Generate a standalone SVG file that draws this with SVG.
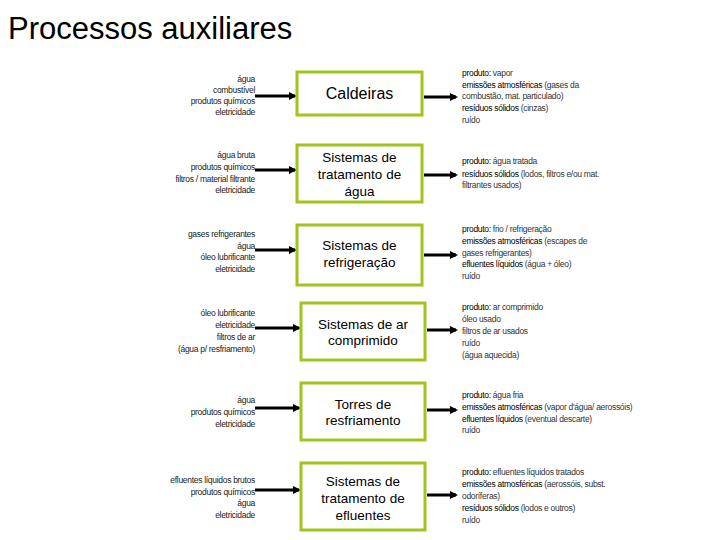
<svg xmlns="http://www.w3.org/2000/svg" width="720" height="540" viewBox="0 0 720 540">
<style>
.title{font-family:"Liberation Sans",Arial,sans-serif;font-size:31px;fill:#000}
.box{fill:#fff;stroke:#a2c41e;stroke-width:3}
.bt{font-family:"Liberation Sans",Arial,sans-serif;font-size:13.5px;fill:#000;text-anchor:middle}
.in{font-family:"Liberation Sans",Arial,sans-serif;font-size:8.5px;fill:#222;text-anchor:end;letter-spacing:-0.3px}
.out{font-family:"Liberation Sans",Arial,sans-serif;font-size:8.5px;fill:#333;letter-spacing:-0.3px}
.b{fill:#000}
.arr{stroke:#000;stroke-width:3;fill:none;marker-end:url(#ah)}
</style>
<defs>
<marker id="ah" markerWidth="8" markerHeight="8" refX="6" refY="4" orient="auto" markerUnits="userSpaceOnUse">
<path d="M0,0 L8,4 L0,8 Z" fill="#000"/>
</marker>
</defs>
<rect width="720" height="540" fill="#fff"/>
<text class="title" x="8" y="39">Processos auxiliares</text>

<g id="connectors">
<line class="arr" x1="255" y1="96" x2="295" y2="96"/>
<line class="arr" x1="424" y1="97" x2="456" y2="97"/>
<line class="arr" x1="255" y1="170" x2="295" y2="170"/>
<line class="arr" x1="424" y1="175" x2="456" y2="175"/>
<line class="arr" x1="255" y1="250" x2="295" y2="250"/>
<line class="arr" x1="424" y1="255" x2="456" y2="255"/>
<line class="arr" x1="255" y1="328" x2="299" y2="328"/>
<line class="arr" x1="427" y1="330" x2="456" y2="330"/>
<line class="arr" x1="255" y1="408" x2="299" y2="408"/>
<line class="arr" x1="427" y1="410" x2="456" y2="410"/>
<line class="arr" x1="255" y1="490" x2="299" y2="490"/>
<line class="arr" x1="427" y1="495" x2="456" y2="495"/>
</g>

<g id="caldeiras">
<rect class="box" x="297" y="72" width="125" height="43"/>
<text class="bt" x="359.5" y="99" style="font-size:16px">Caldeiras</text>
<text class="in" x="255" y="82">água</text>
<text class="in" x="255" y="93">combustível</text>
<text class="in" x="255" y="104">produtos químicos</text>
<text class="in" x="255" y="115">eletricidade</text>
<text class="out" x="462" y="76"><tspan class="b">produto:</tspan> vapor</text>
<text class="out" x="462" y="88"><tspan class="b">emissões atmosféricas</tspan> (gases da</text>
<text class="out" x="462" y="99">combustão, mat. particulado)</text>
<text class="out" x="462" y="111"><tspan class="b">resíduos sólidos</tspan> (cinzas)</text>
<text class="out" x="462" y="123">ruído</text>
</g>

<g id="tratamento-agua">
<rect class="box" x="297" y="145" width="125" height="57"/>
<text class="bt" x="359.5" y="162">Sistemas de</text>
<text class="bt" x="359.5" y="179">tratamento de</text>
<text class="bt" x="359.5" y="196">água</text>
<text class="in" x="255" y="158">água bruta</text>
<text class="in" x="255" y="170">produtos químicos</text>
<text class="in" x="255" y="182">filtros / material filtrante</text>
<text class="in" x="255" y="193">eletricidade</text>
<text class="out" x="462" y="164"><tspan class="b">produto:</tspan> água tratada</text>
<text class="out" x="462" y="177"><tspan class="b">resíduos sólidos</tspan> (lodos, filtros e/ou mat.</text>
<text class="out" x="462" y="188">filtrantes usados)</text>
</g>

<g id="refrigeracao">
<rect class="box" x="297" y="225" width="125" height="60"/>
<text class="bt" x="359.5" y="250">Sistemas de</text>
<text class="bt" x="359.5" y="267">refrigeração</text>
<text class="in" x="255" y="237">gases refrigerantes</text>
<text class="in" x="255" y="249">água</text>
<text class="in" x="255" y="260">óleo lubrificante</text>
<text class="in" x="255" y="272">eletricidade</text>
<text class="out" x="462" y="232"><tspan class="b">produto:</tspan> frio / refrigeração</text>
<text class="out" x="462" y="244"><tspan class="b">emissões atmosféricas</tspan> (escapes de</text>
<text class="out" x="462" y="256">gases refrigerantes)</text>
<text class="out" x="462" y="267"><tspan class="b">efluentes líquidos</tspan> (água + óleo)</text>
<text class="out" x="462" y="279">ruído</text>
</g>

<g id="ar-comprimido">
<rect class="box" x="301" y="303" width="124" height="57"/>
<text class="bt" x="363" y="329">Sistemas de ar</text>
<text class="bt" x="363" y="345">comprimido</text>
<text class="in" x="255" y="316">óleo lubrificante</text>
<text class="in" x="255" y="328">eletricidade</text>
<text class="in" x="255" y="340">filtros de ar</text>
<text class="in" x="255" y="352">(água p/ resfriamento)</text>
<text class="out" x="462" y="310"><tspan class="b">produto:</tspan> ar comprimido</text>
<text class="out" x="462" y="322">óleo usado</text>
<text class="out" x="462" y="334">filtros de ar usados</text>
<text class="out" x="462" y="346">ruído</text>
<text class="out" x="462" y="358">(água aquecida)</text>
</g>

<g id="torres">
<rect class="box" x="301" y="383" width="124" height="57"/>
<text class="bt" x="363" y="409">Torres de</text>
<text class="bt" x="363" y="425">resfriamento</text>
<text class="in" x="255" y="403">água</text>
<text class="in" x="255" y="415">produtos químicos</text>
<text class="in" x="255" y="427">eletricidade</text>
<text class="out" x="462" y="398"><tspan class="b">produto:</tspan> água fria</text>
<text class="out" x="462" y="410"><tspan class="b">emissões atmosféricas</tspan> (vapor d'água/ aerossóis)</text>
<text class="out" x="462" y="422"><tspan class="b">efluentes líquidos</tspan> (eventual descarte)</text>
<text class="out" x="462" y="433">ruído</text>
</g>

<g id="tratamento-efluentes">
<rect class="box" x="301" y="463" width="124" height="67"/>
<text class="bt" x="363" y="486">Sistemas de</text>
<text class="bt" x="363" y="503">tratamento de</text>
<text class="bt" x="363" y="520">efluentes</text>
<text class="in" x="255" y="483">efluentes líquidos brutos</text>
<text class="in" x="255" y="495">produtos químicos</text>
<text class="in" x="255" y="506">água</text>
<text class="in" x="255" y="518">eletricidade</text>
<text class="out" x="462" y="475"><tspan class="b">produto:</tspan> efluentes líquidos tratados</text>
<text class="out" x="462" y="487"><tspan class="b">emissões atmosféricas</tspan> (aerossóis, subst.</text>
<text class="out" x="462" y="499">odoríferas)</text>
<text class="out" x="462" y="511"><tspan class="b">resíduos sólidos</tspan> (lodos e outros)</text>
<text class="out" x="462" y="523">ruído</text>
</g>
</svg>
